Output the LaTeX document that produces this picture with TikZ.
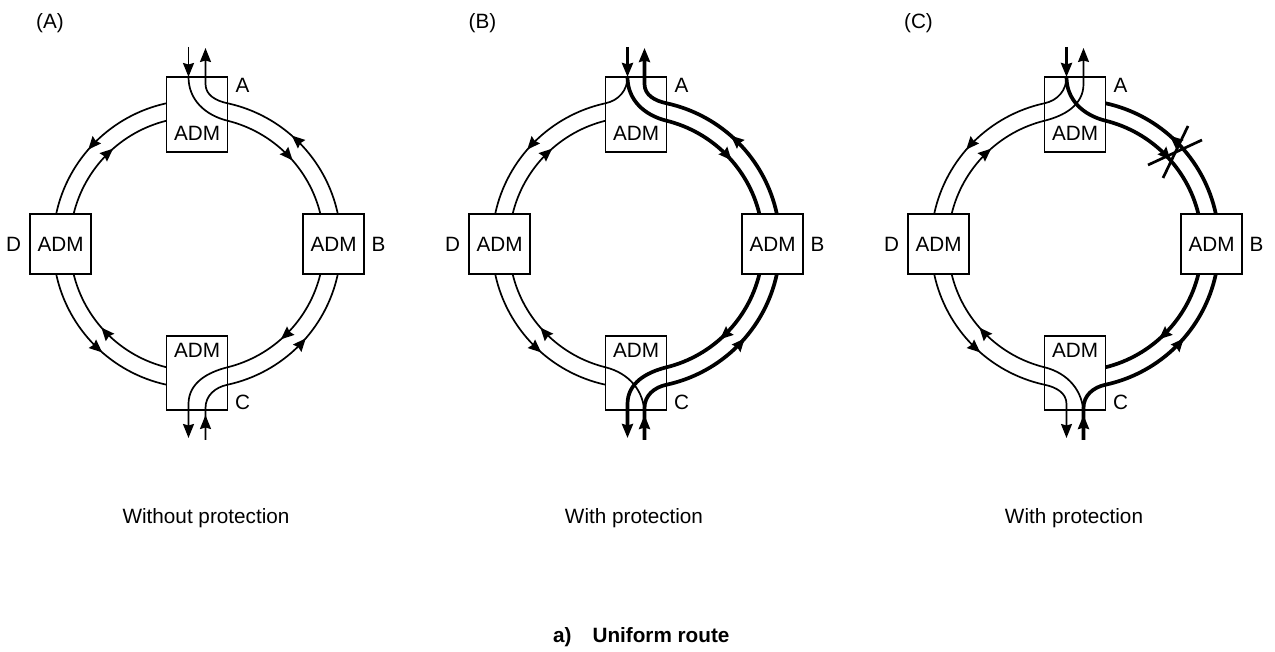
\documentclass[tikz,border=0pt]{standalone}
\usepackage{fontspec}
\setmainfont{Liberation Sans}
\usetikzlibrary{arrows.meta,decorations.markings,calc}

\tikzset{
  every node/.style={font=\fontsize{20.7pt}{24pt}\selectfont, inner sep=0pt},
  adm/.style={draw, line width=1.7pt, minimum width=61pt},
  flow/.style={line width=1.7pt},
  heavy/.style={line width=3.7pt},
  endtip/.style={-{Stealth[length=14pt,width=11pt,inset=1.5pt]}},
  midtip/.style={postaction={decorate},
    decoration={markings, mark=at position 0.56 with {\arrow{Stealth[length=13pt,width=11pt,inset=1.5pt]}}}},
  cutmark/.style={line width=2.7pt},
  right ring/.style={flow},
  left ring/.style={flow}
}

% ring of four ADMs, origin at the ring centre
\newcommand{\admring}{%
  \node[adm, text height=63.4pt, text depth=11.6pt] (nA) at (0,129.5) {ADM};
  \node[adm, minimum height=60pt] (nB) at (136.5,0) {ADM};
  \node[adm, text height=21.4pt, text depth=52.6pt] (nC) at (0,-129) {ADM};
  \node[adm, minimum height=60pt] (nD) at (-136.5,0) {ADM};
  \node (tA) at (45.5,159) {A};
  \node (tB) at (181.5,0) {B};
  \node (tC) at (45.5,-158) {C};
  \node (tD) at (-183.5,0) {D};
  % ends of the outer (r=144) and inner (r=127) rings
  \coordinate (ao-r) at (77.8:144pt);  \coordinate (ai-r) at (76.1:127pt);
  \coordinate (ao-l) at (102.2:144pt); \coordinate (ai-l) at (103.9:127pt);
  \coordinate (do-t) at (168:144pt);   \coordinate (di-t) at (166.3:127pt);
  \coordinate (do-b) at (192:144pt);   \coordinate (di-b) at (193.7:127pt);
  \coordinate (co-l) at (257.8:144pt); \coordinate (ci-l) at (256.1:127pt);
  \coordinate (co-r) at (282.2:144pt); \coordinate (ci-r) at (283.9:127pt);
  \coordinate (bo-b) at (348:144pt);   \coordinate (bi-b) at (346.3:127pt);
  \coordinate (bo-t) at (12:144pt);    \coordinate (bi-t) at (13.7:127pt);
  % outer ring anticlockwise, inner ring clockwise
  \draw[right ring, midtip] (bo-t) arc[start angle=12, end angle=77.8, radius=144pt];
  \draw[right ring, midtip] (ai-r) arc[start angle=76.1, end angle=13.7, radius=127pt];
  \draw[right ring, midtip] (co-r) arc[start angle=282.2, end angle=348, radius=144pt];
  \draw[right ring, midtip] (bi-b) arc[start angle=346.3, end angle=283.9, radius=127pt];
  \draw[left ring, midtip] (ao-l) arc[start angle=102.2, end angle=168, radius=144pt];
  \draw[left ring, midtip] (di-t) arc[start angle=166.3, end angle=103.9, radius=127pt];
  \draw[left ring, midtip] (do-b) arc[start angle=192, end angle=257.8, radius=144pt];
  \draw[left ring, midtip] (ci-l) arc[start angle=256.1, end angle=193.7, radius=127pt];
  % add/drop points above A and below C
  \coordinate (a-in)   at (-8.5,197);
  \coordinate (a-out)  at (8.5,196);
  \coordinate (a-sp)   at (-8.5,167);
  \coordinate (a-up)   at (8.5,160);
  \coordinate (c-dn)   at (-8.5,-160);
  \coordinate (c-drop) at (-8.5,-194);
  \coordinate (c-add)  at (8.5,-196);
  \coordinate (c-mid)  at (8.5,-171);
  \coordinate (c-up)   at (8.5,-164);
}

\begin{document}
\begin{tikzpicture}[x=1pt,y=1pt]
  \useasboundingbox (0,0) rectangle (1275,651);

  % (A) without protection
  \begin{scope}[shift={(197,407)}, name prefix=pa-]
    \admring
    \draw[flow, endtip] (a-in) -- (a-sp);
    \draw[flow] (a-sp) to[out=-90,in=166] (ai-r);
    \draw[flow, endtip] (ao-r) to[out=168,in=-90] (a-up) -- (a-out);
    \draw[flow, endtip] (ci-r) to[out=194,in=90] (c-dn) -- (c-drop);
    \draw[flow, endtip] (c-add) -- (c-mid);
    \draw[flow] (c-add) -- (c-up) to[out=90,in=192] (co-r);
  \end{scope}

  % (B) with protection
  \begin{scope}[shift={(636,407)}, name prefix=pb-, right ring/.style={heavy}]
    \admring
    \draw[heavy, endtip] (a-in) -- (a-sp);
    \draw[heavy] (a-sp) to[out=-90,in=166] (ai-r);
    \draw[flow] (a-sp) to[out=-90,in=12] (ao-l);
    \draw[heavy, endtip] (ao-r) to[out=168,in=-90] (a-up) -- (a-out);
    \draw[heavy, endtip] (ci-r) to[out=194,in=90] (c-dn) -- (c-drop);
    \draw[heavy, endtip] (c-add) -- (c-mid);
    \draw[heavy] (c-add) -- (c-up) to[out=90,in=192] (co-r);
    \draw[flow] (c-mid) to[out=90,in=-14] (ci-l);
  \end{scope}

  % (C) with protection, break between A and B
  \begin{scope}[shift={(1075,407)}, name prefix=pc-, right ring/.style={heavy}]
    \admring
    \draw[heavy, endtip] (a-in) -- (a-sp);
    \draw[heavy] (a-sp) to[out=-90,in=166] (ai-r);
    \draw[flow] (a-sp) to[out=-90,in=12] (ao-l);
    \draw[flow, endtip] (ai-l) to[out=14,in=-90] (a-up) -- (a-out);
    \draw[flow, endtip] (co-l) to[out=-12,in=90] (c-dn) -- (c-drop);
    \draw[heavy, endtip] (c-add) -- (c-mid);
    \draw[heavy] (c-add) -- (c-up) to[out=90,in=192] (co-r);
    \draw[flow] (c-mid) to[out=90,in=-14] (ci-l);
    \coordinate (cut) at (100,92);
    \draw[cutmark] (cut) ++(-27,-13) -- ++(54,25);
    \draw[cutmark] (cut) ++(-12,-26) -- ++(25,52);
  \end{scope}

  \node (lA) at (50,627.5) {(A)};
  \node (lB) at (482.5,627.5) {(B)};
  \node (lC) at (918.5,627.5) {(C)};
  \node[anchor=base] (capA) at (206,127) {Without protection};
  \node[anchor=base] (capB) at (634,127) {With protection};
  \node[anchor=base] (capC) at (1074,127) {With protection};
  \node[anchor=base west, font=\fontsize{20.7pt}{24pt}\selectfont\bfseries] (title) at (553,9) {a)\hspace{21pt}Uniform route};
\end{tikzpicture}
\end{document}
